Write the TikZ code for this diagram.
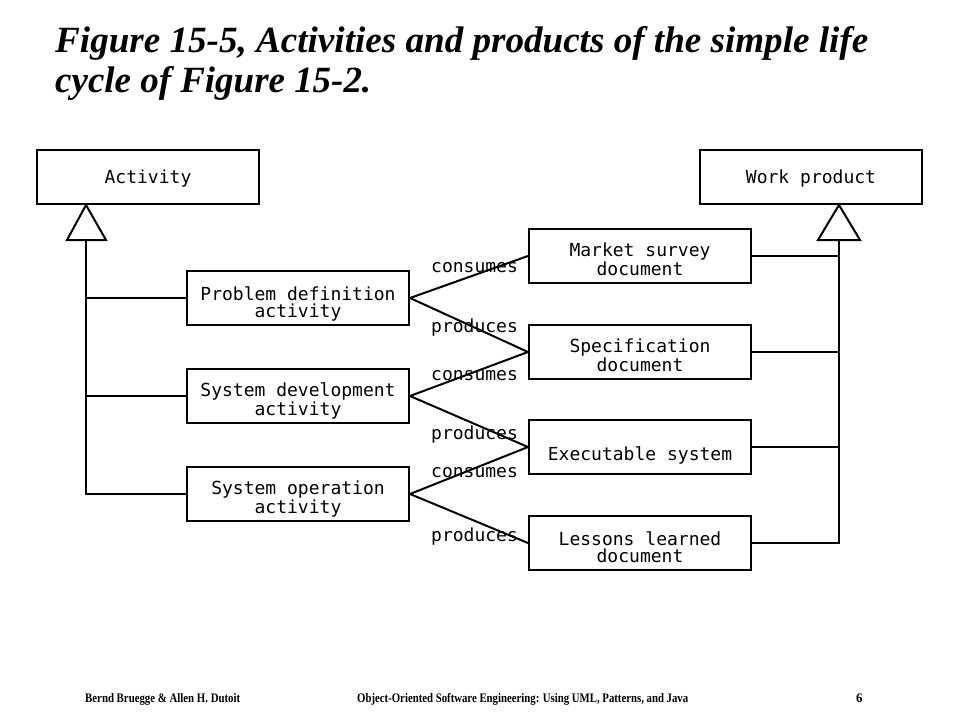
\documentclass[tikz,border=0pt]{standalone}
\usepackage{fontspec}
\usepackage{graphicx}
\setmonofont{DejaVu Sans Mono}
\newfontfamily\titlefont{Liberation Serif}
\newcommand\twol[2]{\raisebox{-19pt}[0pt][0pt]{\begin{minipage}[b]{220pt}\centering #1\\#2\end{minipage}}}
\newcommand\onel[2]{\raisebox{-#1}[0pt][0pt]{#2}}
\begin{document}
\begin{tikzpicture}[x=1pt,y=-1pt,
  box/.style={draw,line width=2pt,rectangle,minimum width=222pt,minimum height=54pt,
    inner sep=0pt,align=center,font=\ttfamily\fontsize{18}{17}\selectfont},
  conn/.style={line width=2pt},
  lbl/.style={anchor=west,inner sep=0pt,font=\ttfamily\fontsize{18}{17}\selectfont},
  tri/.style={line width=2pt,fill=white,line join=miter}]
\useasboundingbox (0,0) rectangle (960,720);
% title
\node[anchor=base west,inner sep=0pt] (t1) at (55,52)
  {\resizebox{813pt}{\height}{\titlefont\bfseries\itshape\fontsize{37}{40}\selectfont Figure 15-5, Activities and products of the simple life}};
\node[anchor=base west,inner sep=0pt] (t2) at (55,92)
  {\resizebox{316pt}{\height}{\titlefont\bfseries\itshape\fontsize{37}{40}\selectfont cycle of Figure 15-2.}};
% boxes
\node[box] (act) at (148,177) {\onel{6pt}{Activity}};
\node[box] (wp) at (811,177) {\onel{6pt}{Work product}};
\node[box] (pd) at (298,298) {\twol{Problem definition}{activity}};
\node[box] (sd) at (298,396) {\twol{System development}{activity}};
\node[box] (so) at (298,494) {\twol{System operation}{activity}};
\node[box] (ms) at (640,256) {\twol{Market survey}{document}};
\node[box] (sp) at (640,352) {\twol{Specification}{document}};
\node[box] (ex) at (640,447) {\onel{13pt}{Executable system}};
\node[box] (ll) at (640,543) {\twol{Lessons learned}{document}};
% generalization left
\coordinate (la) at ([xshift=-62pt]act.south);
\coordinate (lb) at ([xshift=-62pt,yshift=-35pt]act.south);
\draw[conn] (lb) -- (lb |- so.west) -- (so.west);
\draw[conn] (pd.west) -- (pd.west -| lb);
\draw[conn] (sd.west) -- (sd.west -| lb);
\draw[tri] (la) -- ([xshift=-19pt]lb) -- ([xshift=20pt]lb) -- cycle;
% generalization right
\coordinate (ra) at ([xshift=28pt]wp.south);
\coordinate (rb) at ([xshift=28pt,yshift=-35pt]wp.south);
\draw[conn] (rb) -- (rb |- ll.east) -- (ll.east);
\draw[conn] (ms.east) -- (ms.east -| rb);
\draw[conn] (sp.east) -- (sp.east -| rb);
\draw[conn] (ex.east) -- (ex.east -| rb);
\draw[tri] (ra) -- ([xshift=-21pt]rb) -- ([xshift=21pt]rb) -- cycle;
% associations
\draw[conn] (pd.east) -- (ms.west);
\draw[conn] (pd.east) -- (sp.west);
\draw[conn] (sd.east) -- (sp.west);
\draw[conn] (sd.east) -- (ex.west);
\draw[conn] (so.east) -- (ex.west);
\draw[conn] (so.east) -- (ll.west);
% labels
\node[lbl] (c1) at (431,268) {consumes};
\node[lbl] (p1) at (431,328) {produces};
\node[lbl] (c2) at (431,376) {consumes};
\node[lbl] (p2) at (431,435) {produces};
\node[lbl] (c3) at (431,473) {consumes};
\node[lbl] (p3) at (431,537) {produces};
% footer
\node[anchor=base west,inner sep=0pt] (f1) at (85,702)
  {\resizebox{155pt}{\height}{\titlefont\bfseries\fontsize{13}{15}\selectfont Bernd Bruegge \& Allen H. Dutoit}};
\node[anchor=base west,inner sep=0pt] (f2) at (357,702)
  {\resizebox{331pt}{\height}{\titlefont\bfseries\fontsize{13}{15}\selectfont Object-Oriented Software Engineering: Using UML, Patterns, and Java}};
\node[anchor=base west,inner sep=0pt] (f3) at (856,702)
  {\titlefont\bfseries\fontsize{13}{15}\selectfont 6};
\end{tikzpicture}
\end{document}
